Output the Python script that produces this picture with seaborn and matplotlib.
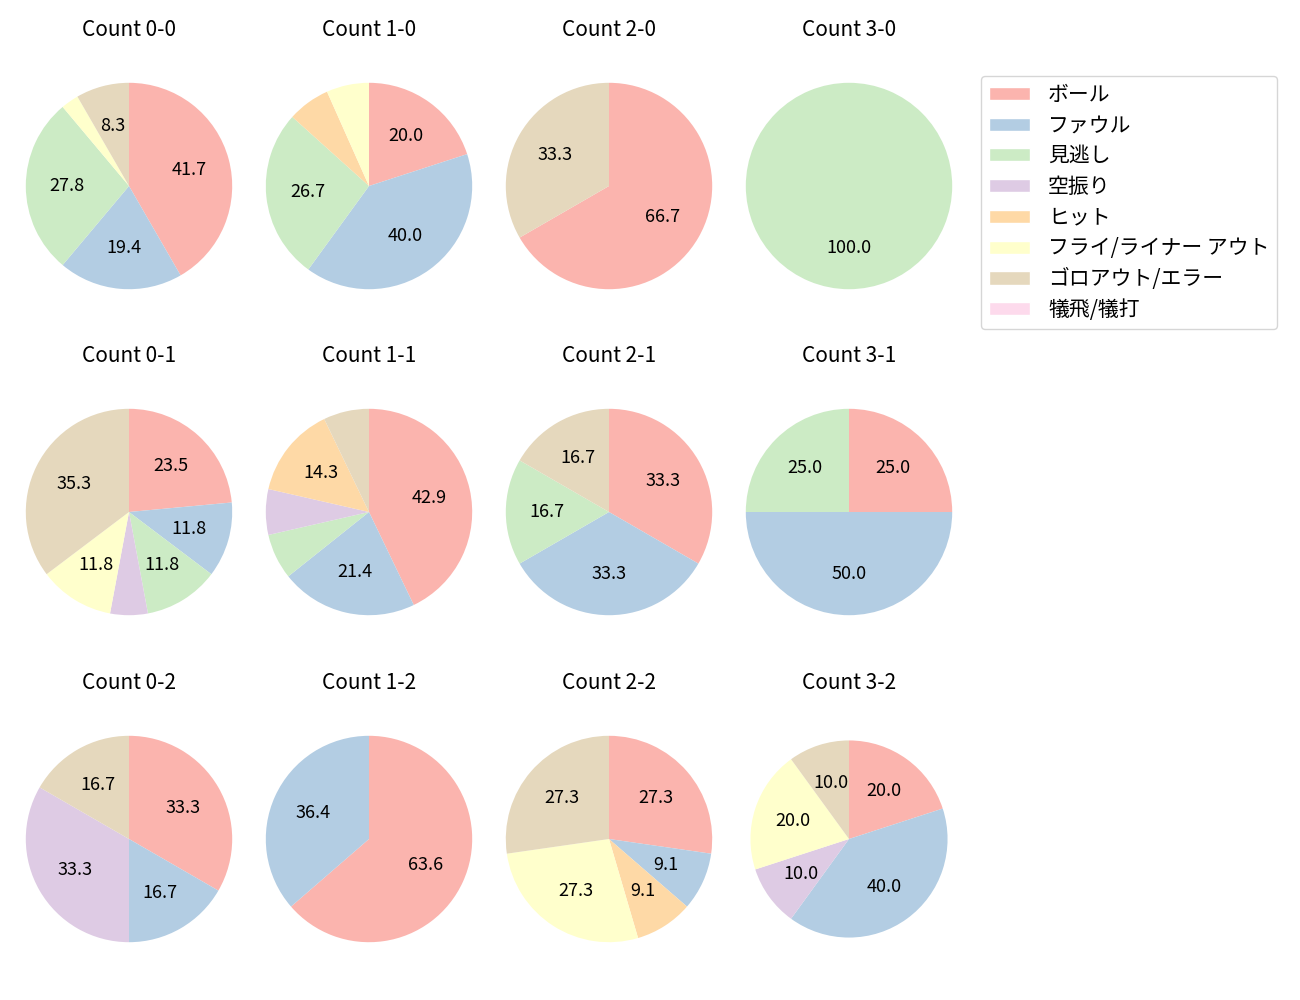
import matplotlib
matplotlib.use("Agg")
import matplotlib.pyplot as plt
from matplotlib.patches import Patch
import seaborn as sns

sns.set_theme(style="white")
plt.rcParams['font.family'] = ['Noto Sans CJK JP', 'DejaVu Sans']
plt.rcParams['text.color'] = 'black'

categories = ["ボール", "ファウル", "見逃し", "空振り", "ヒット",
              "フライ/ライナー アウト", "ゴロアウト/エラー", "犠飛/犠打"]

count_labels = ["0-0", "1-0", "2-0", "3-0",
                "0-1", "1-1", "2-1", "3-1",
                "0-2", "1-2", "2-2", "3-2"]

# counts per category (same order as categories)
c_0_0 = [15, 7, 10, 0, 0, 1, 3, 0]
c_1_0 = [3, 6, 4, 0, 1, 1, 0, 0]
c_2_0 = [2, 0, 0, 0, 0, 0, 1, 0]
c_3_0 = [0, 0, 1, 0, 0, 0, 0, 0]
c_0_1 = [4, 2, 2, 1, 0, 2, 6, 0]
c_1_1 = [6, 3, 1, 1, 2, 0, 1, 0]
c_2_1 = [2, 2, 1, 0, 0, 0, 1, 0]
c_3_1 = [1, 2, 1, 0, 0, 0, 0, 0]
c_0_2 = [2, 1, 0, 2, 0, 0, 1, 0]
c_1_2 = [7, 4, 0, 0, 0, 0, 0, 0]
c_2_2 = [3, 1, 0, 0, 1, 3, 3, 0]
c_3_2 = [2, 4, 0, 1, 0, 2, 1, 0]

all_counts = [c_0_0, c_1_0, c_2_0, c_3_0,
              c_0_1, c_1_1, c_2_1, c_3_1,
              c_0_2, c_1_2, c_2_2, c_3_2]

colors = sns.color_palette("Pastel1", 8)

W, H = 1300, 1000
fig = plt.figure(figsize=(13, 10), dpi=100)

col_cx = [129, 369, 609, 849]
row_cy = [186, 512, 839]
S = 258  # axes size px (pie radius ~103)


def autopct(p):
    return f"{p:.1f}" if p >= 7.5 else ""


for i, (lab, vals) in enumerate(zip(count_labels, all_counts)):
    r, c = divmod(i, 4)
    cx, cy = col_cx[c], row_cy[r]
    ax = fig.add_axes([(cx - S / 2) / W, 1 - (cy + S / 2) / H, S / W, S / H])
    idx = [k for k, v in enumerate(vals) if v > 0]
    radius = 0.955 if lab == "3-2" else 1.0
    ax.pie([vals[k] for k in idx], colors=[colors[k] for k in idx],
           startangle=90, counterclock=False, autopct=autopct,
           radius=radius, wedgeprops={'linewidth': 0},
           textprops={'fontsize': 13, 'color': 'black'})
    ax.set_xlim(-1.25, 1.25)
    ax.set_ylim(-1.25, 1.25)
    ax.set_title(f"Count {lab}", fontsize=15, pad=15, color='black')

handles = [Patch(facecolor=colors[k], label=categories[k]) for k in range(8)]
fig.legend(handles=handles, loc="upper left",
           bbox_to_anchor=(981 / W, 1 - 76 / H), borderaxespad=0,
           fontsize=15, handlelength=2.0, handleheight=0.6,
           labelspacing=0.42, handletextpad=0.85, borderpad=0.37,
           frameon=True, edgecolor="#cccccc")

fig.savefig("out.png", dpi=100)
